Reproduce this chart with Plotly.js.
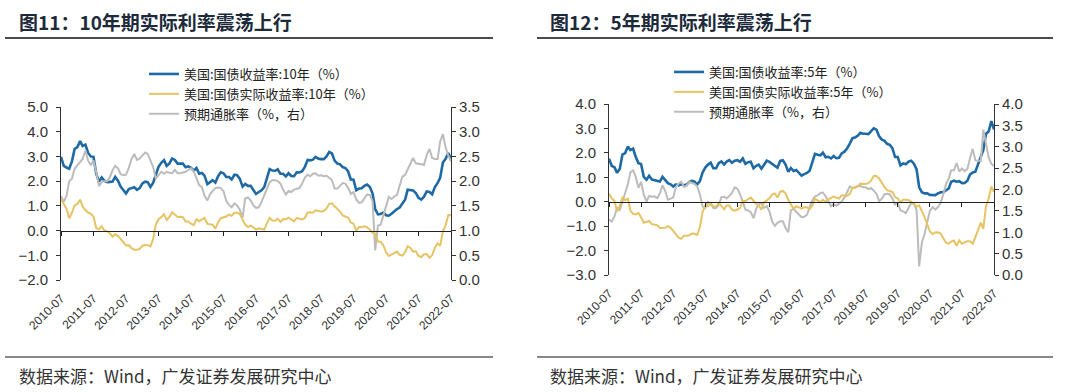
<!DOCTYPE html>
<html>
<head>
<meta charset="utf-8">
<script src="https://cdn.plot.ly/plotly-3.0.1.min.js"></script>
<style>
html,body{margin:0;padding:0;background:#fff;}
#chart{width:1071px;height:392px;}
</style>
</head>
<body>
<div id="chart"></div>
<script>
// ---------- DATA (monthly, 2010-07 ... 2022-07) ----------
const tickLabels = ['2010-07','2011-07','2012-07','2013-07','2014-07','2015-07','2016-07','2017-07','2018-07','2019-07','2020-07','2021-07','2022-07'];

// Left chart: 10-year
const us10y = [
 2.98,2.62,2.55,2.50,2.80,3.30,
 3.38,3.62,3.42,3.48,3.15,3.00,2.98,2.30,1.98,2.15,2.01,1.96,
 1.97,1.98,2.17,2.02,1.78,1.62,1.50,1.68,1.72,1.75,1.65,1.72,
 1.91,1.98,1.96,1.76,1.93,2.30,2.58,2.74,2.85,2.62,2.72,2.92,
 2.86,2.71,2.72,2.71,2.56,2.60,2.54,2.42,2.53,2.30,2.33,2.21,
 1.88,1.98,2.04,1.94,2.20,2.36,2.32,2.17,2.17,2.07,2.26,2.24,
 2.09,1.78,1.89,1.81,1.81,1.64,1.48,1.56,1.63,1.76,2.14,2.49,
 2.43,2.42,2.48,2.30,2.30,2.19,2.32,2.21,2.20,2.36,2.35,2.40,
 2.58,2.86,2.84,2.87,2.98,2.91,2.89,2.89,3.00,3.18,3.12,2.83,
 2.71,2.68,2.57,2.53,2.40,2.07,2.06,1.63,1.70,1.71,1.81,1.86,
 1.76,1.50,0.87,0.66,0.67,0.73,0.62,0.60,0.68,0.79,0.87,0.93,
 1.08,1.26,1.65,1.64,1.62,1.52,1.32,1.25,1.37,1.58,1.56,1.47,
 1.76,1.93,2.13,2.75,2.90,3.14,2.92
];
const real10y = [
 1.28,1.05,0.88,0.50,0.72,1.02,
 1.08,1.25,0.97,0.83,0.73,0.68,0.57,0.10,0.05,0.17,0.01,-0.03,
 -0.11,-0.25,-0.14,-0.21,-0.34,-0.50,-0.60,-0.59,-0.71,-0.78,-0.78,-0.74,
 -0.61,-0.58,-0.59,-0.64,-0.36,0.25,0.46,0.55,0.66,0.43,0.55,0.74,
 0.63,0.55,0.56,0.54,0.37,0.37,0.28,0.22,0.46,0.38,0.45,0.51,
 0.27,0.24,0.24,0.08,0.33,0.50,0.52,0.57,0.65,0.60,0.71,0.73,
 0.67,0.44,0.24,0.14,0.20,0.13,0.04,0.09,0.05,0.04,0.30,0.51,
 0.41,0.40,0.48,0.35,0.47,0.46,0.52,0.43,0.37,0.51,0.49,0.45,
 0.51,0.73,0.74,0.72,0.82,0.80,0.77,0.79,0.89,1.08,1.10,0.98,
 0.86,0.77,0.61,0.58,0.53,0.33,0.28,0.00,0.14,0.14,0.17,0.13,
 0.04,-0.09,-0.13,-0.44,-0.45,-0.60,-0.87,-1.03,-0.96,-0.90,-0.85,-0.98,
 -1.01,-0.87,-0.63,-0.70,-0.85,-0.84,-1.03,-1.07,-0.96,-0.95,-1.10,-1.00,
 -0.69,-0.52,-0.62,-0.03,0.21,0.63,0.62
];
const be10y = [
 1.70,1.58,1.70,2.00,2.05,2.25,
 2.32,2.38,2.45,2.62,2.42,2.32,2.42,2.18,1.90,1.98,2.00,2.00,
 2.08,2.22,2.31,2.26,2.14,2.12,2.13,2.27,2.45,2.55,2.43,2.46,
 2.52,2.58,2.55,2.40,2.29,2.05,2.12,2.19,2.15,2.19,2.17,2.16,
 2.23,2.16,2.16,2.17,2.19,2.23,2.26,2.20,2.07,1.92,1.88,1.70,
 1.61,1.74,1.80,1.86,1.87,1.86,1.80,1.60,1.52,1.47,1.55,1.51,
 1.42,1.26,1.65,1.67,1.61,1.51,1.46,1.47,1.58,1.72,1.84,1.98,
 2.02,2.02,2.00,1.95,1.83,1.73,1.80,1.78,1.83,1.85,1.86,1.95,
 2.07,2.13,2.10,2.15,2.16,2.11,2.12,2.10,2.11,2.07,2.02,1.85,
 1.85,1.91,1.96,1.95,1.87,1.74,1.78,1.63,1.56,1.57,1.64,1.73,
 1.72,1.59,0.60,1.10,1.12,1.33,1.49,1.68,1.64,1.69,1.72,1.91,
 2.09,2.13,2.24,2.34,2.47,2.36,2.35,2.35,2.33,2.53,2.65,2.47,
 2.45,2.45,2.80,2.95,2.69,2.51,2.40
];

// Right chart: 5-year
const us5y = [
 1.76,1.47,1.41,1.18,1.35,1.93,
 1.99,2.26,2.11,2.17,1.84,1.58,1.54,1.02,0.90,1.06,0.91,0.89,
 0.84,0.83,1.02,0.89,0.76,0.71,0.62,0.71,0.67,0.71,0.67,0.70,
 0.81,0.85,0.82,0.71,0.84,1.20,1.40,1.52,1.60,1.37,1.37,1.58,
 1.65,1.52,1.64,1.70,1.59,1.68,1.70,1.63,1.77,1.55,1.62,1.64,
 1.37,1.47,1.52,1.35,1.54,1.68,1.63,1.54,1.49,1.39,1.67,1.70,
 1.52,1.22,1.38,1.26,1.30,1.17,1.07,1.13,1.18,1.27,1.60,1.96,
 1.92,1.90,2.01,1.82,1.84,1.77,1.87,1.78,1.80,1.98,2.05,2.18,
 2.38,2.60,2.63,2.70,2.82,2.78,2.78,2.77,2.89,3.00,2.95,2.68,
 2.54,2.49,2.37,2.33,2.19,1.83,1.83,1.49,1.57,1.53,1.64,1.68,
 1.56,1.32,0.59,0.39,0.34,0.34,0.28,0.27,0.27,0.34,0.39,0.39,
 0.45,0.54,0.82,0.86,0.82,0.84,0.76,0.77,0.86,1.11,1.20,1.23,
 1.54,1.81,2.11,2.78,2.87,3.30,2.96
];
const real5y = [
 0.33,0.14,0.04,-0.39,-0.17,0.19,
 0.06,0.13,-0.36,-0.50,-0.52,-0.46,-0.64,-0.86,-0.82,-0.79,-0.92,-0.95,
 -0.96,-1.08,-1.08,-1.07,-1.00,-1.07,-1.19,-1.35,-1.47,-1.52,-1.39,-1.39,
 -1.37,-1.30,-1.31,-1.36,-1.04,-0.40,-0.17,-0.19,-0.07,-0.20,-0.20,-0.05,
 -0.17,-0.31,-0.15,-0.15,-0.33,-0.37,-0.32,-0.26,0.04,0.02,0.11,0.17,
 0.04,-0.08,-0.13,-0.33,-0.03,0.07,0.14,0.29,0.34,0.17,0.41,0.44,
 0.34,0.07,-0.13,-0.29,-0.18,-0.24,-0.28,-0.23,-0.23,-0.31,-0.15,0.12,
 0.06,-0.02,0.08,-0.02,0.10,0.16,0.21,0.16,0.13,0.26,0.24,0.24,
 0.31,0.57,0.59,0.62,0.74,0.73,0.73,0.76,0.86,1.05,1.05,0.95,
 0.76,0.60,0.47,0.44,0.40,0.18,0.14,-0.02,0.08,0.08,0.07,0.00,
 -0.11,-0.20,-0.15,-0.37,-0.62,-0.93,-1.22,-1.32,-1.26,-1.25,-1.30,-1.50,
 -1.68,-1.72,-1.63,-1.59,-1.80,-1.58,-1.73,-1.66,-1.62,-1.62,-1.72,-1.45,
 -1.14,-0.86,-1.11,-0.17,0.12,0.62,0.40
];
const be5y = [
 1.30,1.25,1.37,1.57,1.52,1.74,
 1.93,2.13,2.40,2.45,2.30,2.04,2.18,1.88,1.72,1.85,1.83,1.84,
 1.80,1.91,2.10,1.96,1.76,1.78,1.81,2.06,2.14,2.18,2.06,2.09,
 2.18,2.15,2.13,2.07,1.88,1.60,1.57,1.71,1.67,1.57,1.57,1.63,
 1.82,1.83,1.79,1.85,1.92,2.05,2.02,1.89,1.73,1.53,1.51,1.47,
 1.33,1.55,1.65,1.68,1.57,1.61,1.49,1.25,1.15,1.22,1.26,1.26,
 1.10,1.00,1.51,1.55,1.48,1.41,1.35,1.36,1.41,1.58,1.75,1.84,
 1.86,1.92,1.93,1.84,1.74,1.61,1.66,1.62,1.67,1.72,1.81,1.94,
 2.07,2.03,2.04,2.08,2.08,2.05,2.05,2.01,2.03,1.97,1.90,1.73,
 1.78,1.89,1.90,1.89,1.79,1.65,1.69,1.51,1.49,1.45,1.57,1.68,
 1.67,1.52,0.20,0.76,0.96,1.27,1.50,1.59,1.53,1.59,1.69,1.89,
 2.13,2.26,2.45,2.45,2.62,2.42,2.49,2.43,2.48,2.73,2.95,2.68,
 2.68,2.67,3.40,3.10,2.75,2.60,2.55
];

const names10 = ['美国:国债收益率:10年（%）','美国:国债实际收益率:10年（%）','预期通胀率（%，右）'];
const names5  = ['美国:国债收益率:5年（%）','美国:国债实际收益率:5年（%）','预期通胀率（%，右）'];

// month dates (categories on a date axis)
const months = [];
for (let y = 2010; y <= 2022; y++) {
  for (let m = 1; m <= 12; m++) {
    if ((y === 2010 && m < 7) || (y === 2022 && m > 7)) continue;
    months.push(y + '-' + String(m).padStart(2,'0') + '-15');
  }
}
const tickVals = tickLabels.map(t => t + '-15');

// ---------- STYLE / LAYOUT ----------
const W = 1071, H = 392;
const px = x => x / W;
const py = y => 1 - y / H;

const BLUE = '#1f6aa5', GOLD = '#e6c363', GRAY = '#bcbcbc';
const CJK = '"Noto Sans CJK SC", "Noto Sans", sans-serif';
const SANS = '"Liberation Sans", Arial, sans-serif';

const L = {x0: 61, x1: 451, y0: 107, y1: 280};
const R = {x0: 609, x1: 994, y0: 104, y1: 275};
const Ldom = [py(L.y1), py(L.y0)];
const Rdom = [py(R.y1), py(R.y0)];
const zeroL = Ldom[0] + (0 - (-2)) / 7 * (Ldom[1] - Ldom[0]);
const zeroR = Rdom[0] + (0 - (-3)) / 7 * (Rdom[1] - Rdom[0]);

const xRange = [months[0], months[months.length - 1]];

function labelAxis(dom, anchor) {
  return {
    domain: dom, anchor: anchor, type: 'date', range: xRange,
    tickmode: 'array', tickvals: tickVals, ticktext: tickLabels,
    tickangle: -45, ticks: '', showline: false, showgrid: false, zeroline: false,
    tickfont: {family: SANS, size: 12, color: '#333'}, ticklabelstandoff: 8,
    fixedrange: true
  };
}
function zeroAxis(over, pos) {
  return {
    overlaying: over, anchor: 'free', position: pos, type: 'date', range: xRange,
    tickmode: 'array', tickvals: tickVals, ticks: 'outside', ticklen: 4, tickcolor: '#222',
    showticklabels: false, showline: true, linecolor: '#222', linewidth: 1,
    showgrid: false, zeroline: false, fixedrange: true
  };
}
function valAxis(dom, anchor, rng, side, over) {
  const a = {
    domain: dom, anchor: anchor, range: rng, dtick: side === 'left' ? 1 : 0.5, tick0: 0,
    tickformat: '.1f', ticks: 'outside', ticklen: 4, tickcolor: '#333',
    showline: true, linecolor: '#333', linewidth: 1, showgrid: false, zeroline: false,
    side: side, tickfont: {family: SANS, size: 15, color: '#333'},
    ticklabelstandoff: side === 'left' ? 5 : 0,
    fixedrange: true
  };
  if (over) { a.overlaying = over; delete a.domain; }
  return a;
}

const data = [
  {x: months, y: us10y, name: names10[0], xaxis: 'x', yaxis: 'y', type: 'scatter', mode: 'lines',
   line: {color: BLUE, width: 2.6}, legend: 'legend'},
  {x: months, y: real10y, name: names10[1], xaxis: 'x3', yaxis: 'y', type: 'scatter', mode: 'lines',
   line: {color: GOLD, width: 2}, legend: 'legend'},
  {x: months, y: be10y, name: names10[2], xaxis: 'x', yaxis: 'y2', type: 'scatter', mode: 'lines',
   line: {color: GRAY, width: 2}, legend: 'legend'},

  {x: months, y: us5y, name: names5[0], xaxis: 'x2', yaxis: 'y3', type: 'scatter', mode: 'lines',
   line: {color: BLUE, width: 2.6}, legend: 'legend2'},
  {x: months, y: real5y, name: names5[1], xaxis: 'x4', yaxis: 'y3', type: 'scatter', mode: 'lines',
   line: {color: GOLD, width: 2}, legend: 'legend2'},
  {x: months, y: be5y, name: names5[2], xaxis: 'x2', yaxis: 'y4', type: 'scatter', mode: 'lines',
   line: {color: GRAY, width: 2}, legend: 'legend2'}
];

const legendBase = {
  xanchor: 'left', yanchor: 'top', bgcolor: 'rgba(0,0,0,0)', borderwidth: 0,
  font: {family: CJK, size: 13, color: '#222'}, itemwidth: 30, tracegroupgap: 0,
  traceorder: 'normal', itemclick: false, itemdoubleclick: false
};

const layout = {
  width: W, height: H,
  margin: {l: 0, r: 0, t: 0, b: 0},
  paper_bgcolor: '#fff', plot_bgcolor: 'rgba(0,0,0,0)',
  showlegend: true,
  xaxis: labelAxis([px(L.x0), px(L.x1)], 'y'),
  xaxis3: zeroAxis('x', zeroL),
  yaxis: valAxis(Ldom, 'x', [-2, 5], 'left'),
  yaxis2: valAxis(Ldom, 'x', [0, 3.5], 'right', 'y'),

  xaxis2: labelAxis([px(R.x0), px(R.x1)], 'y3'),
  xaxis4: zeroAxis('x2', zeroR),
  yaxis3: valAxis(Rdom, 'x2', [-3, 4], 'left'),
  yaxis4: valAxis(Rdom, 'x2', [0, 4], 'right', 'y3'),

  legend: Object.assign({}, legendBase, {x: px(144), y: py(59)}),
  legend2: Object.assign({}, legendBase, {x: px(669), y: py(57)}),

  shapes: [
    {type: 'line', xref: 'paper', yref: 'paper', x0: px(5), x1: px(493), y0: py(38), y1: py(38), line: {color: '#111', width: 1.5}},
    {type: 'line', xref: 'paper', yref: 'paper', x0: px(537), x1: px(1053), y0: py(38), y1: py(38), line: {color: '#111', width: 1.5}},
    {type: 'line', xref: 'paper', yref: 'paper', x0: px(5), x1: px(493), y0: py(357), y1: py(357), line: {color: '#111', width: 1.2}},
    {type: 'line', xref: 'paper', yref: 'paper', x0: px(537), x1: px(1053), y0: py(357), y1: py(357), line: {color: '#111', width: 1.2}}
  ],
  annotations: [
    {xref: 'paper', yref: 'paper', x: px(17), y: py(21), xanchor: 'left', yanchor: 'middle', showarrow: false,
     text: '<b>图11：10年期实际利率震荡上行</b>', font: {family: CJK, size: 19, color: '#1c2a3a'}},
    {xref: 'paper', yref: 'paper', x: px(548), y: py(21), xanchor: 'left', yanchor: 'middle', showarrow: false,
     text: '<b>图12：5年期实际利率震荡上行</b>', font: {family: CJK, size: 19, color: '#1c2a3a'}},
    {xref: 'paper', yref: 'paper', x: px(17), y: py(375), xanchor: 'left', yanchor: 'middle', showarrow: false,
     text: '数据来源：Wind，广发证券发展研究中心', font: {family: CJK, size: 17, color: '#333'}},
    {xref: 'paper', yref: 'paper', x: px(548), y: py(375), xanchor: 'left', yanchor: 'middle', showarrow: false,
     text: '数据来源：Wind，广发证券发展研究中心', font: {family: CJK, size: 17, color: '#333'}}
  ]
};

Plotly.newPlot('chart', data, layout, {displayModeBar: false, staticPlot: true});
</script>
</body>
</html>
